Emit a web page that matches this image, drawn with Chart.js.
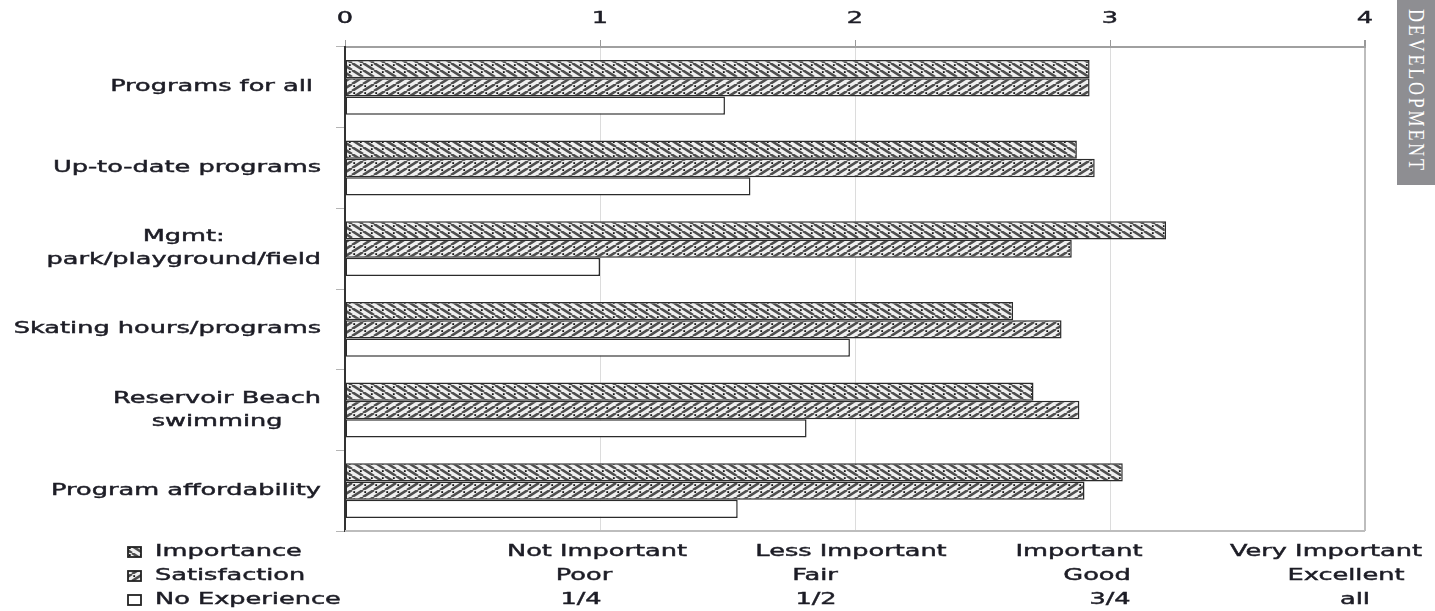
<!DOCTYPE html>
<html>
<head>
<meta charset="utf-8">
<title>Programs – Importance and Satisfaction</title>
<script src="https://cdn.jsdelivr.net/npm/chart.js@4.4.1/dist/chart.umd.min.js"></script>
<style>
  html, body { margin: 0; padding: 0; background: #fff; }
  #wrap { position: relative; width: 1435px; height: 611px; overflow: hidden; }
  #chart { position: absolute; left: 0; top: 0; }
  #tab { position: absolute; left: 1397px; top: 0; width: 38px; height: 185px; background: #8e8e92; }
  #tab span {
    position: absolute; left: 5px; top: 9px;
    writing-mode: vertical-rl;
    font: 18px "Liberation Serif", serif;
    letter-spacing: 2.8px;
    color: #fff;
    transform: scaleX(1.3);
    transform-origin: left top;
  }
</style>
</head>
<body>
<div id="wrap">
  <canvas id="chart" width="1435" height="611"></canvas>
  <div id="tab"><span>DEVELOPMENT</span></div>
</div>
<script>
// ---- data ----
const categories = [
  ['Programs for all '],
  ['Up-to-date programs'],
  ['Mgmt:', 'park/playground/field'],
  ['Skating hours/programs'],
  ['Reservoir Beach', 'swimming'],
  ['Program affordability']
];
const seriesNames = ['Importance', 'Satisfaction', 'No Experience'];
const importance   = [2.92, 2.87, 3.22, 2.62, 2.70, 3.05];
const satisfaction = [2.92, 2.94, 2.85, 2.81, 2.88, 2.90];
const noExperience = [1.49, 1.59, 1.00, 1.98, 1.81, 1.54];
const tickValues = [0, 1, 2, 3, 4];
const scaleNotes = [
  ['Not Important', 'Poor', '1/4'],
  ['Less Important', 'Fair', '1/2'],
  ['Important', 'Good', '3/4'],
  ['Very Important', 'Excellent', 'all']
];

// ---- styling ----
const FONT = '16px "DejaVu Sans", Verdana, sans-serif';
const TEXT = '#1d1d26';
const WIDEN = 1.6;   // the report's typeface is set wide

// hatch fills for the bars
function hatch(dir) {
  const w = 11, h = 7;
  const c = document.createElement('canvas');
  c.width = w; c.height = h;
  const g = c.getContext('2d');
  g.fillStyle = '#f0f0f0';
  g.fillRect(0, 0, w, h);
  g.strokeStyle = '#4e4e4e';
  g.lineWidth = 2.6;
  for (let k = -1; k <= 1; k++) {
    g.beginPath();
    if (dir > 0) { g.moveTo(k * w, 0); g.lineTo(k * w + w, h); }
    else { g.moveTo(k * w + w, 0); g.lineTo(k * w, h); }
    g.stroke();
  }
  g.fillStyle = '#111';
  const dx = dir > 0 ? 8.8 : w - 8.8;
  g.fillRect(dx - 0.9, 2.1 - 0.9, 1.8, 1.8);
  return g.createPattern(c, 'repeat');
}

const canvas = document.getElementById('chart');
const ctx = canvas.getContext('2d');

// wide, slightly heavy lettering: stretch every string around its anchor
(function widenText(c) {
  const fill = c.fillText.bind(c);
  const stroke = c.strokeText.bind(c);
  const measure = c.measureText.bind(c);
  c.fillText = function (t, x, y, maxW) {
    c.save();
    c.translate(x, y);
    c.scale(WIDEN, 1);
    fill(t, 0, 0);
    c.strokeStyle = c.fillStyle;
    c.lineWidth = 0.45;
    stroke(t, 0, 0);
    c.restore();
  };
  c.measureText = function (t) {
    const m = measure(t);
    return {
      width: m.width * WIDEN,
      actualBoundingBoxAscent: m.actualBoundingBoxAscent,
      actualBoundingBoxDescent: m.actualBoundingBoxDescent,
      actualBoundingBoxLeft: m.actualBoundingBoxLeft * WIDEN,
      actualBoundingBoxRight: m.actualBoundingBoxRight * WIDEN,
      fontBoundingBoxAscent: m.fontBoundingBoxAscent,
      fontBoundingBoxDescent: m.fontBoundingBoxDescent
    };
  };
})(ctx);

const fills = [hatch(1), hatch(-1), '#ffffff'];
const values = [importance, satisfaction, noExperience];

// category names, legend and rating key drawn around the plot
const annotations = {
  id: 'annotations',
  beforeDatasetsDraw(chart) {
    const { ctx: c, chartArea: a } = chart;
    c.save();
    c.strokeStyle = '#bdbdbd';
    c.lineWidth = 2;
    c.beginPath();
    c.moveTo(a.left, a.bottom);
    c.lineTo(a.right, a.bottom);
    c.stroke();
    c.restore();
  },
  afterDraw(chart) {
    const { ctx: c, chartArea: a } = chart;
    const y = chart.scales.y, x = chart.scales.x;
    c.save();
    c.font = FONT;
    c.fillStyle = TEXT;
    c.textBaseline = 'middle';

    // category names: line block right-aligned, lines centred within it
    c.textAlign = 'center';
    categories.forEach((lines, i) => {
      const cy = y.getPixelForValue(i);
      const w = Math.max(...lines.map(l => c.measureText(l).width));
      const cx = a.left - 24 - w / 2;
      lines.forEach((l, j) => c.fillText(l, cx, cy + (j - (lines.length - 1) / 2) * 23));
    });

    // legend
    const rowY = j => a.bottom + 21 + j * 24;
    chart.data.datasets.forEach((ds, j) => {
      const by = rowY(j) - 5;
      c.fillStyle = ds.backgroundColor;
      c.fillRect(128, by, 13, 10);
      c.strokeStyle = '#222';
      c.lineWidth = 1.8;
      c.strokeRect(128, by, 13, 10);
      c.fillStyle = TEXT;
      c.textAlign = 'left';
      c.fillText(ds.label, 155, rowY(j));
    });

    // rating key under the value axis
    const shift = [[-3, -16, -19], [-4, -40, -39], [-31, -13, 0], [-39, -19, -10]];
    c.textAlign = 'center';
    scaleNotes.forEach((lines, i) => {
      const px = x.getPixelForValue(i + 1);
      lines.forEach((l, j) => c.fillText(l, px + shift[i][j], rowY(j)));
    });
    c.restore();
  }
};

new Chart(ctx, {
  type: 'bar',
  data: {
    labels: categories,
    datasets: seriesNames.map((name, k) => ({
      label: name,
      data: values[k],
      backgroundColor: fills[k],
      borderColor: '#2b2b2b',
      borderWidth: 1.5,
      borderSkipped: false,
      barPercentage: 1.0,
      categoryPercentage: 0.68
    }))
  },
  options: {
    indexAxis: 'y',
    responsive: false,
    animation: false,
    devicePixelRatio: 1,
    layout: { padding: { left: 0, right: 70, top: 0, bottom: 80 } },
    plugins: { legend: { display: false }, tooltip: { enabled: false } },
    scales: {
      x: {
        position: 'top',
        min: tickValues[0],
        max: tickValues[tickValues.length - 1],
        afterBuildTicks: s => { s.ticks = tickValues.map(v => ({ value: v })); },
        afterFit: s => { s.height = 47; },
        ticks: { font: { family: '"DejaVu Sans", Verdana, sans-serif', size: 16 }, color: TEXT, padding: 12 },
        grid: {
          color: ctx => ctx.tick && ctx.tick.value === 4 ? '#bdbdbd' : '#dcdcdc',
          lineWidth: ctx => ctx.tick && ctx.tick.value === 4 ? 2 : 1,
          tickColor: '#999',
          tickLength: 7
        },
        border: { color: '#a0a0a0', width: 2 }
      },
      y: {
        position: 'left',
        afterFit: s => { s.width = 345; },
        ticks: { display: false },
        grid: { drawOnChartArea: false, tickLength: 9, color: '#b5b5b5' },
        border: { color: '#333', width: 2 }
      }
    }
  },
  plugins: [annotations]
});
</script>
</body>
</html>
